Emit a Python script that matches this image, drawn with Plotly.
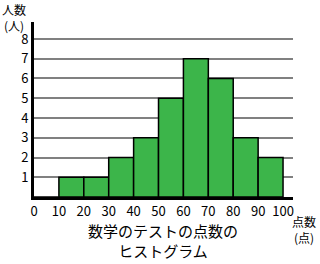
import plotly.graph_objects as go

bin_starts = [0, 10, 20, 30, 40, 50, 60, 70, 80, 90]
bin_width = 10
counts = [0, 1, 1, 2, 3, 5, 7, 6, 3, 2]
x_ticks = [0, 10, 20, 30, 40, 50, 60, 70, 80, 90, 100]
y_ticks = [1, 2, 3, 4, 5, 6, 7, 8]

centers = [s + bin_width / 2 for s in bin_starts]
font = "Noto Sans CJK JP"

L, T, B, R = 34, 22, 67, 27
PW, PH = 320 - L - R, 264 - T - B


def px(xp):
    return (xp - L) / PW


def py(yp):
    return 1 - (yp - T) / PH


fig = go.Figure(go.Bar(
    x=centers, y=counts, width=bin_width,
    marker=dict(color="#3cb54a", line=dict(color="black", width=1.5)),
))

fig.update_layout(
    width=320, height=264,
    margin=dict(l=L, r=R, t=T, b=B),
    plot_bgcolor="white", paper_bgcolor="white",
    showlegend=False,
    font=dict(family=font, size=13, color="black"),
    xaxis=dict(range=[0, 104], tickvals=x_ticks, ticktext=[str(v) for v in x_ticks],
               showgrid=False, zeroline=False, showline=True, linecolor="black",
               linewidth=3, ticks="", tickfont=dict(size=13)),
    yaxis=dict(range=[0, 8.86], tickvals=y_ticks, showgrid=True, gridcolor="#808080",
               gridwidth=1.5, zeroline=False, showline=True, linecolor="black",
               linewidth=3, ticks="", tickfont=dict(size=13)),
)

fig.add_annotation(text="人数<br>(人)", xref="paper", yref="paper",
                   x=px(1), y=py(0), showarrow=False, font=dict(size=12),
                   xanchor="left", yanchor="top", borderpad=0)
fig.add_annotation(text="点数<br>(点)", xref="paper", yref="paper",
                   x=px(304), y=py(229), showarrow=False, font=dict(size=12),
                   xanchor="center", yanchor="middle", borderpad=0)
fig.add_annotation(text="数学のテストの点数の<br>ヒストグラム", xref="paper", yref="paper",
                   x=px(163), y=py(241), showarrow=False, font=dict(size=15),
                   xanchor="center", yanchor="middle", borderpad=0)

fig.write_html("out.html")
